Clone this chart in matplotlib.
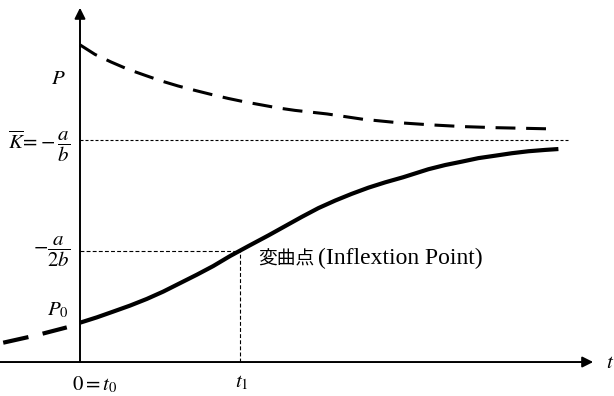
import matplotlib
matplotlib.use("Agg")
import matplotlib.pyplot as plt

plt.rcParams['mathtext.fontset'] = 'stix'
plt.rcParams['font.family'] = ['Liberation Serif', 'Noto Sans CJK JP', 'DejaVu Sans']

# Logistic growth curve (solid)
t_solid = [0.0, 0.42, 0.83, 1.25, 1.67, 2.08, 2.5, 2.92, 3.33, 3.75, 4.21, 4.71, 5.13,
           5.54, 5.96, 6.38, 6.79, 7.21, 7.63, 8.08, 8.71, 9.13, 9.54, 9.96, 10.38,
           10.79, 11.21, 11.63, 11.96]
p_solid = [1.77, 2.01, 2.27, 2.54, 2.84, 3.17, 3.55, 3.93, 4.32, 4.77, 5.22, 5.70, 6.12,
           6.53, 6.93, 7.27, 7.57, 7.85, 8.09, 8.32, 8.68, 8.87, 9.02, 9.18, 9.29,
           9.40, 9.49, 9.55, 9.59]

# Backward extension before t0 (dashed)
t_back = [-1.92, -1.1, -0.33]
p_back = [0.87, 1.2, 1.56]

# Curve starting above K (dashed)
t_upper = [0.0, 0.375, 0.775, 1.2, 1.625, 2.025, 2.45, 2.875, 3.275, 3.7, 4.125, 4.525,
           4.95, 5.375, 6.175, 7.075, 7.925, 8.75, 9.575, 10.425, 11.7]
p_upper = [14.28, 13.85, 13.51, 13.18, 12.91, 12.66, 12.43, 12.23, 12.05, 11.87, 11.71,
           11.58, 11.44, 11.33, 11.17, 10.93, 10.78, 10.68, 10.6, 10.55, 10.5]

K = 10.0
K_half = 5.0
t1 = 4.0
K_line_end = 12.25

fig = plt.figure(figsize=(6.14, 3.96), dpi=100)
ax = fig.add_axes([0, 0, 1, 1])
ax.set_xlim(-2.0, 13.35)
ax.set_ylim(-1.53, 16.3)
ax.axis('off')

# axes with arrows
ax.annotate('', xy=(12.83, 0), xytext=(-2.0, 0),
            arrowprops=dict(arrowstyle='-|>', lw=1.4, color='k', mutation_scale=16,
                            shrinkA=0, shrinkB=0))
ax.annotate('', xy=(0, 15.95), xytext=(0, 0),
            arrowprops=dict(arrowstyle='-|>', lw=1.4, color='k', mutation_scale=16,
                            shrinkA=0, shrinkB=0))

# reference dotted lines
ax.plot([0, K_line_end], [K, K], color='k', lw=0.8, dashes=(2.7, 1.8))
ax.plot([0, t1], [K_half, K_half], color='k', lw=0.8, dashes=(3.5, 2))
ax.plot([t1, t1], [0, K_half], color='k', lw=0.8, dashes=(3.5, 2))

# curves
ax.plot(t_solid, p_solid, color='k', lw=3.0, solid_capstyle='butt', solid_joinstyle='round')
ax.plot(t_back, p_back, color='k', lw=3.0, dashes=(6.2, 3.5), dash_capstyle='butt')
ax.plot(t_upper, p_upper, color='k', lw=2.2, dashes=(6.5, 3.5), dash_capstyle='butt')

# labels
fs = 15
ax.text(-0.55, 12.7, r'$P$', fontsize=fs, ha='center', va='center')
ax.text(-0.25, 9.7, r'$\overline{K}\!=\!-\dfrac{a}{b}$', fontsize=fs, ha='right', va='center')
ax.text(-0.25, 4.95, r'$-\dfrac{a}{2b}$', fontsize=fs, ha='right', va='center')
ax.text(-0.28, 2.34, r'$P_0$', fontsize=fs, ha='right', va='center')
ax.text(0.375, -1.04, r'$0=t_0$', fontsize=fs, ha='center', va='center')
ax.text(4.05, -0.95, r'$t_1$', fontsize=fs, ha='center', va='center')
ax.text(13.25, -0.05, r'$t$', fontsize=fs, ha='center', va='center')
ax.text(4.45, 4.65, '変曲点', fontsize=13.5, ha='left', va='center', family='Noto Sans CJK JP')
ax.text(5.95, 4.65, '(Inflextion Point)', fontsize=17, ha='left', va='center', family='Liberation Serif')

fig.savefig('out.png', dpi=100)
